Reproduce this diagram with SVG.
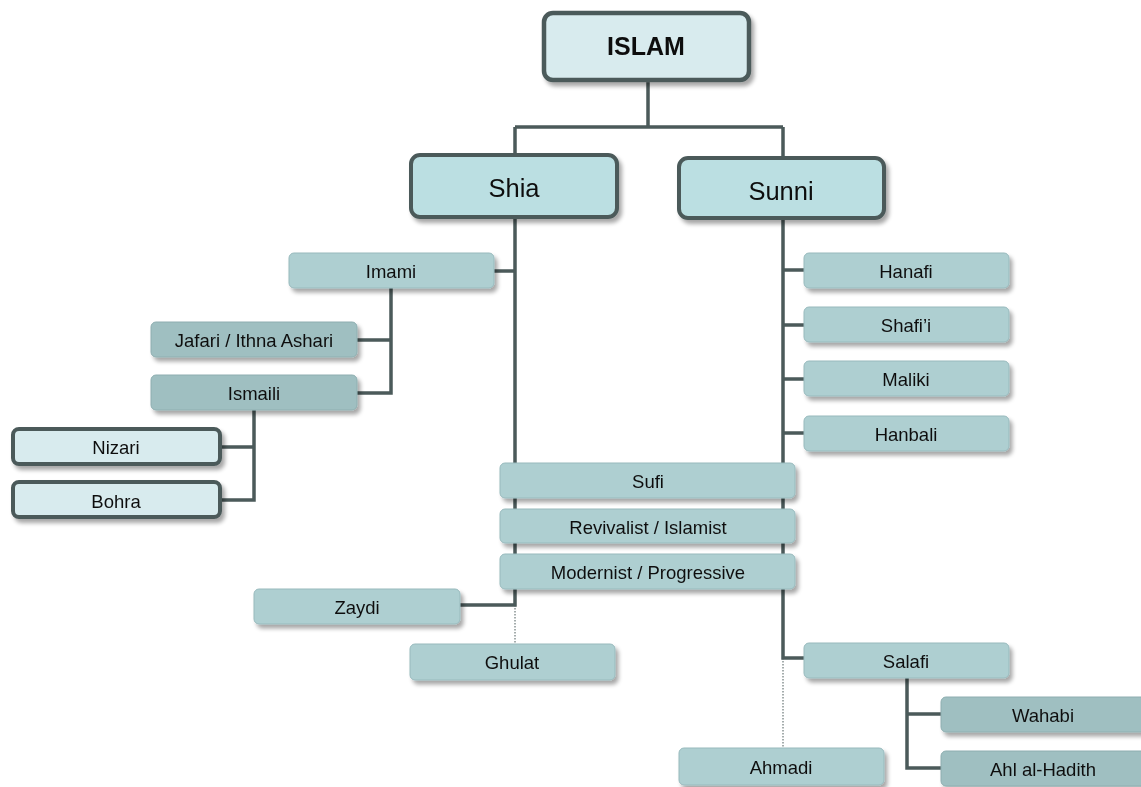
<svg xmlns="http://www.w3.org/2000/svg" width="1141" height="787" viewBox="0 0 1141 787">
<style>
.c{fill:none;stroke:#4b5a5a;stroke-width:3.5}
.d{fill:none;stroke:#4b5a5a;stroke-width:1;stroke-dasharray:1.5 1.5}
.top{fill:#d8ebee;stroke:#4b5a5a;stroke-width:4.5}
.main{fill:#bbdfe2;stroke:#4b5a5a;stroke-width:4}
.leaf{fill:#d8ebee;stroke:#4b5a5a;stroke-width:4}
.n{fill:#aecfd1;stroke:#98babd;stroke-width:1}
.n2{fill:#9fbfc1;stroke:#8eaeb0;stroke-width:1}
text{font-family:"Liberation Sans",Arial,sans-serif;fill:#111;text-anchor:middle;dominant-baseline:central}
.t{font-size:18.5px}
.tm{font-size:25.5px}
.tb{font-size:25px;font-weight:bold}
.sh{filter:url(#s)}
</style>
<defs>
<filter id="s" x="-10%" y="-20%" width="125%" height="160%">
<feGaussianBlur in="SourceAlpha" stdDeviation="2"/>
<feOffset dx="3" dy="4" result="b"/>
<feComponentTransfer><feFuncA type="linear" slope="0.35"/></feComponentTransfer>
<feMerge><feMergeNode/><feMergeNode in="SourceGraphic"/></feMerge>
</filter>
</defs>
<g id="connectors">
<path class="c" d="M648 80V127M515 127H783M515 127V156M783 127V158"/>
<path class="c" d="M515 218V605H460M494 271H515"/>
<path class="d" d="M515 605V645"/>
<path class="c" d="M783 218V658H804M783 270H804M783 325H804M783 379H804M783 433H804"/>
<path class="d" d="M783 658V748"/>
<path class="c" d="M391 288V393H357M357 340H391"/>
<path class="c" d="M254 410V500H220M220 447H254"/>
<path class="c" d="M907 678V768H941M907 714H941"/>
</g>
<g id="islam" class="sh"><rect class="top" x="544" y="13" width="205" height="67" rx="9"/><text class="tb" x="646" y="46">ISLAM</text></g>
<g id="shia" class="sh"><rect class="main" x="411" y="155" width="206" height="62" rx="9"/><text class="tm" x="514" y="188">Shia</text></g>
<g id="sunni" class="sh"><rect class="main" x="679" y="158" width="205" height="60" rx="9"/><text class="tm" x="781" y="191">Sunni</text></g>
<g id="imami" class="sh"><rect class="n" x="289" y="253" width="205" height="35" rx="5"/><text class="t" x="391" y="271">Imami</text></g>
<g id="jafari" class="sh"><rect class="n2" x="151" y="322" width="206" height="35" rx="5"/><text class="t" x="254" y="340">Jafari / Ithna Ashari</text></g>
<g id="ismaili" class="sh"><rect class="n2" x="151" y="375" width="206" height="35" rx="5"/><text class="t" x="254" y="393">Ismaili</text></g>
<g id="nizari" class="sh"><rect class="leaf" x="13" y="429" width="207" height="35" rx="6"/><text class="t" x="116" y="447">Nizari</text></g>
<g id="bohra" class="sh"><rect class="leaf" x="13" y="482" width="207" height="35" rx="6"/><text class="t" x="116" y="501">Bohra</text></g>
<g id="hanafi" class="sh"><rect class="n" x="804" y="253" width="205" height="35" rx="5"/><text class="t" x="906" y="271">Hanafi</text></g>
<g id="shafii" class="sh"><rect class="n" x="804" y="307" width="205" height="35" rx="5"/><text class="t" x="906" y="325">Shafi’i</text></g>
<g id="maliki" class="sh"><rect class="n" x="804" y="361" width="205" height="35" rx="5"/><text class="t" x="906" y="379">Maliki</text></g>
<g id="hanbali" class="sh"><rect class="n" x="804" y="416" width="205" height="35" rx="5"/><text class="t" x="906" y="434">Hanbali</text></g>
<g id="sufi" class="sh"><rect class="n" x="500" y="463" width="295" height="35" rx="5"/><text class="t" x="648" y="481">Sufi</text></g>
<g id="revivalist" class="sh"><rect class="n" x="500" y="509" width="295" height="34" rx="5"/><text class="t" x="648" y="527">Revivalist / Islamist</text></g>
<g id="modernist" class="sh"><rect class="n" x="500" y="554" width="295" height="35" rx="5"/><text class="t" x="648" y="572">Modernist / Progressive</text></g>
<g id="zaydi" class="sh"><rect class="n" x="254" y="589" width="206" height="35" rx="5"/><text class="t" x="357" y="607">Zaydi</text></g>
<g id="ghulat" class="sh"><rect class="n" x="410" y="644" width="205" height="36" rx="5"/><text class="t" x="512" y="662">Ghulat</text></g>
<g id="salafi" class="sh"><rect class="n" x="804" y="643" width="205" height="35" rx="5"/><text class="t" x="906" y="661">Salafi</text></g>
<g id="wahabi" class="sh"><rect class="n2" x="941" y="697" width="205" height="35" rx="5"/><text class="t" x="1043" y="715">Wahabi</text></g>
<g id="ahl" class="sh"><rect class="n2" x="941" y="751" width="205" height="35" rx="5"/><text class="t" x="1043" y="769">Ahl al-Hadith</text></g>
<g id="ahmadi" class="sh"><rect class="n" x="679" y="748" width="205" height="37" rx="5"/><text class="t" x="781" y="767">Ahmadi</text></g>
</svg>
